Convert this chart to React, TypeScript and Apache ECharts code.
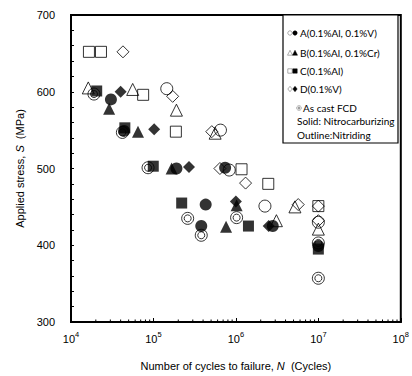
import React, { useEffect, useRef } from "react";
import * as echarts from "echarts";

// A: 0.1%Al, 0.1%V
const aNitriding = [[1.45e5, 604], [6.5e5, 550], [8.3e5, 498], [2.25e6, 451], [1e7, 430]];
const aNitrocarb = [[3.05e4, 590], [4.4e4, 549], [1.9e5, 500], [7.4e5, 501], [4.3e5, 453], [3.8e5, 425], [2.8e6, 425], [1e7, 399]];
// B: 0.1%Al, 0.1%Cr
const bNitriding = [[1.62e4, 605], [5.6e4, 603], [1.9e5, 576], [5.6e5, 546], [5.2e6, 450], [3.1e6, 432], [1e7, 421]];
const bNitrocarb = [[2.9e4, 578], [6.5e4, 548], [1.66e5, 500], [7.6e5, 424], [1.02e6, 452]];
// C: 0.1%Al
const cNitriding = [[1.65e4, 652], [2.31e4, 652], [7.5e4, 596], [1.87e5, 548], [1.17e6, 499], [2.47e6, 480], [1e7, 451]];
const cNitrocarb = [[2.05e4, 601], [4.5e4, 553], [9.95e4, 503], [2.2e5, 455], [1.42e6, 425], [1e7, 395]];
// D: 0.1%V
const dNitriding = [[4.27e4, 652], [1.71e5, 594], [5.1e5, 548], [6.4e5, 500], [1.31e6, 481], [5.7e6, 453], [1e7, 451], [1e7, 432]];
const dNitrocarb = [[4.0e4, 600], [1.02e5, 551], [2.7e5, 502], [1.0e6, 457], [2.5e6, 425]];
// As cast FCD
const asCast = [[1.9e4, 597], [4.2e4, 547], [8.6e4, 501], [2.6e5, 435], [1.02e6, 436], [3.8e5, 413], [1e7, 403], [1e7, 357]];

const xMin = 1e4;
const xMax = 1e8;
const yMin = 300;
const yMax = 700;
const yStep = 100;
const minorMantissas = [2, 3, 4, 5, 6, 7, 8, 9];
const minorDecades = [1e4, 1e5, 1e6, 1e7];

const legendItems = [
  { text: "A(0.1%Al, 0.1%V)", shape: "circle" },
  { text: "B(0.1%Al, 0.1%Cr)", shape: "triangle" },
  { text: "C(0.1%Al)", shape: "square" },
  { text: "D(0.1%V)", shape: "diamond" },
];

const SANS = "Liberation Sans, Arial, sans-serif";
const LEG = "Lato, sans-serif";

function openItem(symbol: string, size: any, data: number[][], name: string) {
  return {
    type: "scatter",
    name,
    data,
    symbol,
    symbolSize: size,
    itemStyle: { color: "rgba(0,0,0,0)", borderColor: "#000", borderWidth: 1 },
    z: 2,
  };
}
function filledItem(symbol: string, size: any, data: number[][], name: string) {
  return {
    type: "scatter",
    name,
    data,
    symbol,
    symbolSize: size,
    itemStyle: { color: "#000", borderColor: "#000", borderWidth: 0 },
    z: 3,
  };
}

function legendMarker(shape: string, cx: number, cy: number, filled: boolean): any {
  const style = filled
    ? { fill: "#000", stroke: "#000", lineWidth: 0.5 }
    : { fill: "none", stroke: "#888", lineWidth: 0.7 };
  const r = 2.2;
  if (shape === "circle") return { type: "circle", shape: { cx, cy, r }, style };
  if (shape === "square") return { type: "rect", shape: { x: cx - r, y: cy - r, width: 2 * r, height: 2 * r }, style };
  if (shape === "triangle")
    return { type: "polygon", shape: { points: [[cx, cy - r - 0.5], [cx + r + 0.3, cy + r], [cx - r - 0.3, cy + r]] }, style };
  return { type: "polygon", shape: { points: [[cx, cy - r - 0.5], [cx + r, cy], [cx, cy + r + 0.5], [cx - r, cy]] }, style };
}

export default function App() {
  const ref = useRef<HTMLDivElement>(null);
  useEffect(() => {
    if (!ref.current) return;
    const chart = echarts.init(ref.current, undefined, { renderer: "svg" });

    const minorTicks: number[][] = [];
    minorDecades.forEach((d) => minorMantissas.forEach((m) => minorTicks.push([m * d, yMin])));

    const legendY = [33, 53, 71, 89];
    const graphics: any[] = [
      {
        type: "rect",
        shape: { x: 283, y: 15, width: 115, height: 128 },
        style: { fill: "#fff", stroke: "#000", lineWidth: 1.2 },
        z: 10,
      },
    ];
    legendItems.forEach((it, i) => {
      graphics.push({ ...legendMarker(it.shape, 290, legendY[i], false), z: 11 });
      graphics.push({ ...legendMarker(it.shape, 295, legendY[i], true), z: 11 });
      graphics.push({
        type: "text",
        x: 300,
        y: legendY[i],
        style: { text: it.text, font: `10px ${LEG}`, fill: "#000", verticalAlign: "middle" },
        z: 11,
      });
    });
    graphics.push({ type: "circle", shape: { cx: 299, cy: 108, r: 2.4 }, style: { fill: "none", stroke: "#999", lineWidth: 0.7 }, z: 11 });
    graphics.push({ type: "circle", shape: { cx: 299, cy: 108, r: 1.2 }, style: { fill: "#999", stroke: "#999", lineWidth: 0.5 }, z: 11 });
    graphics.push({
      type: "text", x: 303, y: 108,
      style: { text: "As cast FCD", font: `10px ${LEG}`, fill: "#000", verticalAlign: "middle" }, z: 11,
    });
    graphics.push({
      type: "text", x: 297, y: 121,
      style: { text: "Solid: Nitrocarburizing", font: `10px ${LEG}`, fill: "#000", verticalAlign: "middle" }, z: 11,
    });
    graphics.push({
      type: "text", x: 297, y: 135,
      style: { text: "Outline:Nitriding", font: `10px ${LEG}`, fill: "#000", verticalAlign: "middle" }, z: 11,
    });

    chart.setOption({
      animation: false,
      backgroundColor: "#fff",
      grid: { left: 71, right: 11, top: 15, bottom: 54, show: true, borderColor: "#000", borderWidth: 2, backgroundColor: "transparent" },
      xAxis: {
        type: "log",
        logBase: 10,
        min: xMin,
        max: xMax,
        axisLine: { lineStyle: { color: "#000", width: 2 } },
        axisTick: { inside: true, length: 4, lineStyle: { color: "#000" } },
        splitLine: { show: false },
        axisLabel: {
          margin: 8,
          formatter: (v: number) => `{b|10}{s|${Math.round(Math.log10(v))}}`,
          rich: {
            b: { fontFamily: SANS, fontSize: 11, color: "#000", lineHeight: 14, verticalAlign: "bottom" },
            s: { fontFamily: SANS, fontSize: 7.5, color: "#000", lineHeight: 8, verticalAlign: "top" },
          },
        },
        name: "{n|Number of cycles to failure, }{i|N}{n|  (Cycles)}",
        nameLocation: "middle",
        nameGap: 38,
        nameTextStyle: {
          rich: {
            n: { fontFamily: SANS, fontSize: 11, color: "#000" },
            i: { fontFamily: SANS, fontSize: 11, color: "#000", fontStyle: "italic" },
          },
        },
      },
      yAxis: {
        type: "value",
        min: yMin,
        max: yMax,
        interval: yStep,
        axisLine: { show: true, lineStyle: { color: "#000", width: 2 } },
        axisTick: { show: true, inside: true, length: 3, lineStyle: { color: "#000" } },
        minorTick: { show: true, splitNumber: 5, length: 3, lineStyle: { color: "#000" } },
        splitLine: { show: false },
        axisLabel: { margin: 16, fontFamily: SANS, fontSize: 11, color: "#000" },
        name: "{n|Applied stress, }{i|S}{n|  (MPa)}",
        nameLocation: "middle",
        nameGap: 42,
        nameTextStyle: {
          rich: {
            n: { fontFamily: SANS, fontSize: 11, color: "#000" },
            i: { fontFamily: SANS, fontSize: 11, color: "#000", fontStyle: "italic" },
          },
        },
      },
      graphic: graphics,
      series: [
        {
          type: "custom",
          silent: true,
          clip: false,
          data: minorTicks,
          renderItem: (params: any, api: any) => {
            const p = api.coord([api.value(0), api.value(1)]);
            return {
              type: "line",
              shape: { x1: p[0], y1: p[1], x2: p[0], y2: p[1] - 2.5 },
              style: { stroke: "#000", lineWidth: 1 },
            };
          },
          z: 4,
        },
        openItem("circle", 12, asCast, "As cast outer"),
        openItem("circle", 7, asCast, "As cast inner"),
        openItem("circle", 12, aNitriding, "A nitriding"),
        openItem("triangle", 12, bNitriding, "B nitriding"),
        openItem("rect", 11, cNitriding, "C nitriding"),
        openItem("diamond", 12, dNitriding, "D nitriding"),
        filledItem("circle", 12, aNitrocarb, "A nitrocarburizing"),
        filledItem("triangle", 12, bNitrocarb, "B nitrocarburizing"),
        filledItem("rect", 11, cNitrocarb, "C nitrocarburizing"),
        filledItem("diamond", 12, dNitrocarb, "D nitrocarburizing"),
      ],
    });
    return () => chart.dispose();
  }, []);
  return <div ref={ref} style={{ position: "fixed", left: 0, top: 0, width: 412, height: 376 }} />;
}
